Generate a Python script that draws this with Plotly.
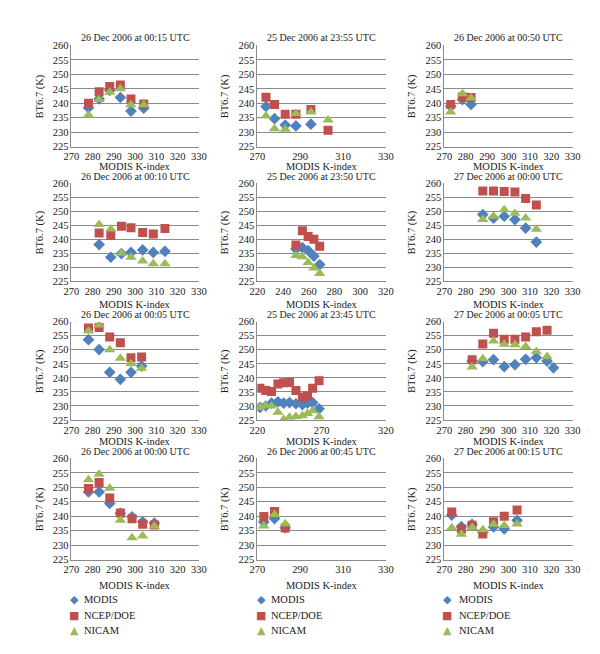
import plotly.graph_objects as go

# ---------------- data ----------------
titles = [
    "26 Dec 2006 at 00:15 UTC", "25 Dec 2006 at 23:55 UTC", "26 Dec 2006 at 00:50 UTC",
    "26 Dec 2006 at 00:10 UTC", "25 Dec 2006 at 23:50 UTC", "27 Dec 2006 at 00:00 UTC",
    "26 Dec 2006 at 00:05 UTC", "25 Dec 2006 at 23:45 UTC", "27 Dec 2006 at 00:05 UTC",
    "26 Dec 2006 at 00:00 UTC", "26 Dec 2006 at 00:45 UTC", "27 Dec 2006 at 00:15 UTC",
]
series_names = ["MODIS", "NCEP/DOE", "NICAM"]

k_1 = [278, 283, 288, 293, 298, 304]
modis_1 = [238.5, 241.5, 244.5, 242.0, 237.3, 238.3]
ncep_1 = [240.0, 244.0, 245.8, 246.3, 241.5, 239.8]
nicam_1 = [236.0, 241.3, 243.8, 245.0, 239.5, 239.5]

k_2 = [274, 278, 283, 288, 295, 303]
modis_2 = [238.9, 234.7, 232.5, 232.2, 232.8, None]
ncep_2 = [242.1, 239.6, 236.2, 236.2, 237.9, 230.7]
nicam_2 = [235.6, 231.2, 231.0, 236.5, 237.0, 234.2]

k_3 = [273, 278.5, 282.5]
modis_3 = [239.0, 241.3, 239.6]
ncep_3 = [239.6, 242.2, 242.0]
nicam_3 = [237.0, 243.3, 241.8]

k_4 = [283, 288.5, 293.5, 298, 303.5, 308.5, 314]
modis_4 = [238.1, 233.6, 234.9, 235.3, 236.2, 235.3, 235.7]
ncep_4 = [242.2, 241.3, 244.6, 244.1, 242.4, 241.9, 243.8]
nicam_4 = [245.3, 243.7, 235.0, 233.6, 232.3, 231.3, 231.3]

k_5 = [250, 255, 259.5, 264, 268.5]
modis_5 = [236.5, 237.0, 236.0, 234.0, 231.0]
ncep_5 = [238.0, 243.0, 241.0, 240.0, 237.5]
nicam_5 = [234.2, 233.8, 231.7, 229.8, 227.8]

k_6 = [288, 293, 298, 303, 308, 313]
modis_6 = [248.8, 247.5, 248.2, 247.0, 244.0, 239.0]
ncep_6 = [257.2, 257.2, 257.0, 256.8, 254.5, 252.2]
nicam_6 = [247.0, 248.2, 250.5, 249.3, 247.6, 243.6]

k_7 = [278, 283, 288, 293, 298, 303]
modis_7 = [253.6, 250.1, 242.0, 239.5, 242.0, 244.2]
ncep_7 = [257.8, 257.9, 254.6, 252.5, 247.2, 247.4]
nicam_7 = [256.7, 258.8, 250.0, 247.0, 245.0, 243.4]

k_8 = [222, 226.5, 231, 236, 240.5, 245, 250, 255, 259, 263, 268]
modis_8 = [229.5, 230.0, 231.0, 231.5, 231.0, 231.2, 230.8, 230.5, 231.0, 231.2, 229.0]
ncep_8 = [236.3, 235.5, 235.2, 237.8, 238.3, 238.4, 235.5, 233.2, 233.6, 236.3, 239.0]
nicam_8 = [229.5, 230.2, 230.0, 227.8, 225.2, 226.0, 226.3, 226.5, 227.3, 228.3, 226.2]

k_9 = [283, 288, 293, 298, 303, 308, 313, 318, 321]
modis_9 = [246.0, 245.8, 246.5, 244.0, 244.7, 246.6, 247.2, 246.0, 243.6]
ncep_9 = [246.5, 252.1, 255.9, 253.8, 253.8, 254.6, 256.4, 257.0, None]
nicam_9 = [243.9, 246.8, 253.1, 252.0, 251.8, 251.2, 249.4, 247.6, None]

k_10 = [278, 283, 288, 293, 298.5, 303.5, 309]
modis_10 = [248.4, 248.4, 244.4, 241.0, 239.8, 238.1, 237.6]
ncep_10 = [249.6, 251.7, 246.3, 241.1, 239.1, 237.2, 237.0]
nicam_10 = [252.6, 254.5, 249.7, 238.6, 232.6, 233.2, 236.5]

k_11 = [273, 278, 283]
modis_11 = [238.0, 239.2, 236.0]
ncep_11 = [239.9, 241.6, 235.9]
nicam_11 = [236.6, 240.6, 237.4]

k_12 = [273.5, 278, 283, 288, 293, 298, 304]
modis_12 = [240.4, 236.4, 237.2, 234.5, 236.3, 235.6, 238.6]
ncep_12 = [241.5, 235.6, 236.9, 233.9, 238.1, 240.0, 242.2]
nicam_12 = [236.0, 233.8, 236.1, 235.3, 237.2, 236.8, 237.3]

x_ranges = [(270, 330)] * 4 + [(220, 320), (270, 330), (270, 330), (220, 320),
                               (270, 330), (270, 330), (270, 330), (270, 330)]
x_dticks = [10, 20, 10, 10, 20, 10, 10, 50, 10, 10, 20, 10]
y_range = (225, 260)
y_dtick = 5

panels = [
    (k_1, modis_1, ncep_1, nicam_1), (k_2, modis_2, ncep_2, nicam_2), (k_3, modis_3, ncep_3, nicam_3),
    (k_4, modis_4, ncep_4, nicam_4), (k_5, modis_5, ncep_5, nicam_5), (k_6, modis_6, ncep_6, nicam_6),
    (k_7, modis_7, ncep_7, nicam_7), (k_8, modis_8, ncep_8, nicam_8), (k_9, modis_9, ncep_9, nicam_9),
    (k_10, modis_10, ncep_10, nicam_10), (k_11, modis_11, ncep_11, nicam_11), (k_12, modis_12, ncep_12, nicam_12),
]

# ---------------- layout geometry (pixels) ----------------
W, H = 600, 654
def fx(p): return p / W
def fy(p): return 1 - p / H

cols = [(57, 188), (248, 380), (440, 572)]
rows = [(33, 136), (173, 273), (314, 414), (453, 556)]
title_y = [25, 166, 307, 446]
xtitle_y = [156, 296, 436, 582]
ytitle_x = [25, 215, 407]

FONT = "Liberation Serif"
TXT = "#1a1a1a"
GRID = "#8a8a8a"
colors = ["#4F81BD", "#C0504D", "#9BBB59"]
symbols = ["diamond", "square", "triangle-up"]
sizes = [9, 9, 10]
glyphs = ["\u25C6", "\u25A0", "\u25B2"]

fig = go.Figure()
layout = dict(
    width=W, height=H, margin=dict(l=0, r=0, t=0, b=0),
    paper_bgcolor="white", plot_bgcolor="white",
    font=dict(family=FONT, size=10, color=TXT),
    annotations=[], showlegend=False,
)

for i, (kx, m, n, c) in enumerate(panels):
    r, col = divmod(i, 3)
    ax = "" if i == 0 else str(i + 1)
    for s, (vals, name) in enumerate(zip((m, n, c), series_names)):
        fig.add_trace(go.Scatter(
            x=kx, y=vals, mode="markers", name=name,
            marker=dict(symbol=symbols[s], color=colors[s], size=sizes[s], line=dict(width=0)),
            xaxis="x" + ax, yaxis="y" + ax,
        ))
    x0, x1 = cols[col]
    y0, y1 = rows[r]
    layout["xaxis" + ax] = dict(
        domain=[fx(x0), fx(x1)], anchor="y" + ax, range=list(x_ranges[i]),
        dtick=x_dticks[i], tick0=x_ranges[i][0], showgrid=False, zeroline=False,
        showline=True, linecolor=GRID, linewidth=1, ticks="",
        tickfont=dict(family=FONT, size=10.5, color=TXT),
    )
    layout["yaxis" + ax] = dict(
        domain=[fy(y1), fy(y0)], anchor="x" + ax, range=list(y_range),
        dtick=y_dtick, showgrid=True, gridcolor=GRID, gridwidth=1, zeroline=False,
        showline=True, linecolor=GRID, linewidth=1, ticks="",
        tickfont=dict(family=FONT, size=10.5, color=TXT),
    )
    layout["annotations"].append(dict(
        text=titles[i], x=fx((x0 + x1) / 2), y=fy(title_y[r]), xref="paper", yref="paper",
        xanchor="center", yanchor="middle", showarrow=False, font=dict(size=10),
    ))
    layout["annotations"].append(dict(
        text="MODIS K-index", x=fx((x0 + x1) / 2), y=fy(xtitle_y[r]), xref="paper", yref="paper",
        xanchor="center", yanchor="middle", showarrow=False, font=dict(size=10.5),
    ))
    layout["annotations"].append(dict(
        text="BT6.7 (K)", x=fx(ytitle_x[col]), y=fy((y0 + y1) / 2), xref="paper", yref="paper",
        xanchor="center", yanchor="middle", textangle=-90, showarrow=False, font=dict(size=10.5),
    ))

# legends under each column (symbol glyph + label)
legend_marker_x = [60, 252, 443]
legend_text_x = [68, 260, 453]
legend_rows_y = [597, 613, 628]
for col in range(3):
    for s in range(3):
        layout["annotations"].append(dict(
            text=glyphs[s], x=fx(legend_marker_x[col]), y=fy(legend_rows_y[s]),
            xref="paper", yref="paper", xanchor="center", yanchor="middle", showarrow=False,
            font=dict(family="DejaVu Sans", size=11, color=colors[s]),
        ))
        layout["annotations"].append(dict(
            text=series_names[s], x=fx(legend_text_x[col]), y=fy(legend_rows_y[s]),
            xref="paper", yref="paper", xanchor="left", yanchor="middle", showarrow=False,
            font=dict(size=10.5),
        ))

fig.update_layout(**layout)
fig.write_html("out.html")
